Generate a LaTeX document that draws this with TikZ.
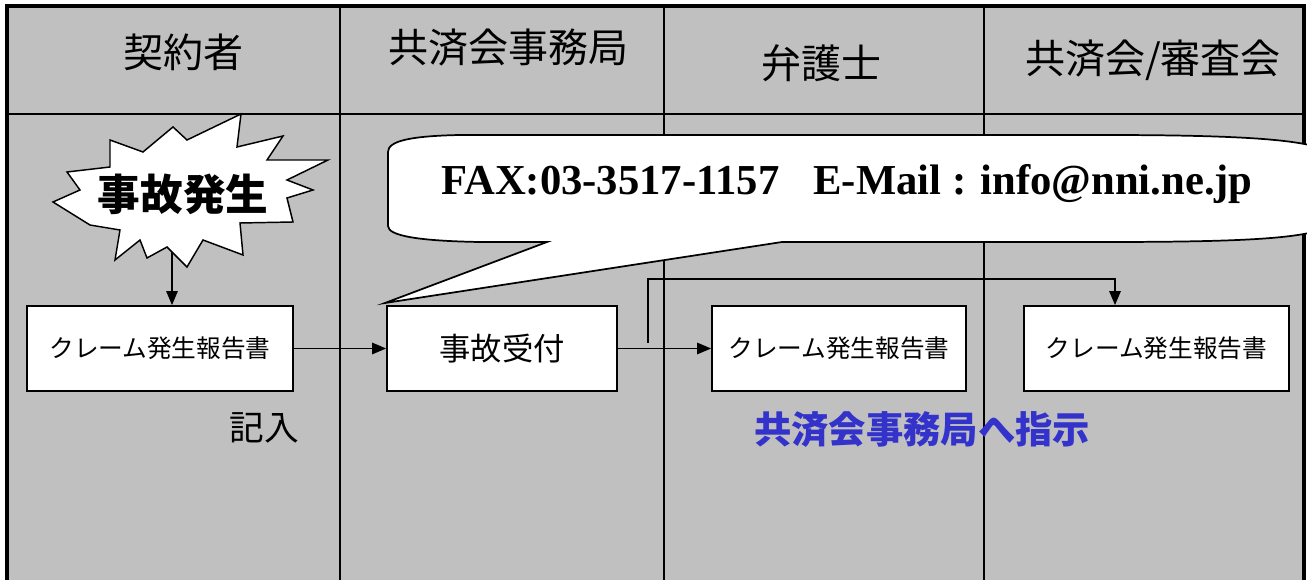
\documentclass[tikz,border=0pt]{standalone}
\usepackage{fontspec}
\setmainfont{Liberation Serif}
\newfontfamily\gothic{Noto Sans CJK JP}
\usetikzlibrary{arrows.meta}
\definecolor{lanegray}{RGB}{192,192,192}
\definecolor{orderblue}{RGB}{51,51,204}
\tikzset{every picture/.style={line width=0.75pt}}
\tikzset{
  lane/.style={line width=1.1pt},
  frame/.style={line width=3pt},
  sheet/.style={draw, fill=white, line width=1.3pt, minimum height=63.75pt, inner sep=0pt, font=\gothic\fontsize{18.5}{20}\selectfont},
  lanehead/.style={font=\gothic\fontsize{30}{32}\selectfont},
  flow/.style={line width=1.4pt, -{Triangle[length=10.5pt,width=8.5pt]}},
}

\begin{document}
\begin{tikzpicture}[x=0.75pt,y=0.75pt,yscale=-1,xscale=1]
	\useasboundingbox (0,0) rectangle (1307,580);
	\clip (0,0) rectangle (1307,580);
	
	%Shape: Background
	\fill[lanegray] (7,6) rectangle (1304,580);
	%Straight Lines: lanes
	\draw[lane] (7,114) -- (1304,114);
	\foreach \x in {340,664,984} \draw[lane] (\x,6) -- (\x,580);
	%Straight Lines: frame
	\draw[frame] (7,580) -- (7,6) -- (1304,6) -- (1304,580);
	
	% Text Node
	\node[lanehead] (headsigner) at (183,52) {契約者};
	% Text Node
	\node[lanehead] (headoffice) at (508,47) {共済会事務局};
	% Text Node
	\node[lanehead] (headlawyer) at (821,63) {弁護士};
	% Text Node
	\node[lanehead] (headboard) at (1153,60) {共済会/審査会};
	
	%Shape: Burst
	\draw[fill=white, line width=1.1pt] (241,114) -- (237,147) -- (283,136) -- (267,160) -- (328,160) -- (287,180) -- (313,190) -- (287,198) -- (293,222) -- (240,223) -- (243,255) -- (203,240) -- (187,267) -- (167,247) -- (147,258) -- (140,240) -- (115,260) -- (120,230) -- (90,225) -- (53,202) -- (80,190) -- (67,172) -- (110,167) -- (110,140) -- (143,152) -- (173,127) -- (187,140) -- cycle;
	% Text Node
	\node[font=\gothic\bfseries\fontsize{32}{34}\selectfont] (accident) at (183,194) {事故発生};
	
	% Sheets
	\node[sheet, minimum width=199.5pt] (report) at (160,348.5) {クレーム発生報告書};
	\node[sheet, minimum width=172.5pt, font=\gothic\fontsize{23.5}{25}\selectfont] (intake) at (502,348.5) {事故受付};
	\node[sheet, minimum width=190.5pt] (lawyerreport) at (839,348.5) {クレーム発生報告書};
	\node[sheet, minimum width=198.75pt] (boardreport) at (1156.5,348.5) {クレーム発生報告書};
	
	%Straight Lines: flow
	\coordinate (burstfoot) at (172,252);
	\draw[flow] (burstfoot) -- (burstfoot |- report.north);
	\draw[flow] (report) -- (intake);
	\draw[flow] (intake) -- (lawyerreport);
	\coordinate (split) at (648,343);
	\coordinate (turn) at (1115,279);
	\draw[flow] (split) |- (turn) -- (turn |- boardreport.north);
	
	%Shape: Callout
	\draw[fill=white, line width=1.3pt] (385,303) -- (547,242) -- (480,242) .. controls (420,241) and (388,236) .. (388,226) -- (388,152) .. controls (388,141) and (410,136) .. (460,135) -- (1100,135) .. controls (1220,135) and (1300,138) .. (1325,150) -- (1325,228) .. controls (1300,240) and (1220,242) .. (1100,242) -- (782,242) -- cycle;
	% Text Node
	\node[font=\bfseries\fontsize{32}{34}\selectfont] (contact) at (847,184) {FAX:03-3517-1157\hspace{0.8em}E-Mail : info@nni.ne.jp};
	
	% Text Node
	\node[font=\gothic\fontsize{26}{28}\selectfont] (entry) at (264,428) {記入};
	% Text Node
	\node[font=\gothic\bfseries\fontsize{28}{30}\selectfont, text=orderblue] (order) at (922,430) {共済会事務局へ指示};
	
\end{tikzpicture}
\end{document}
